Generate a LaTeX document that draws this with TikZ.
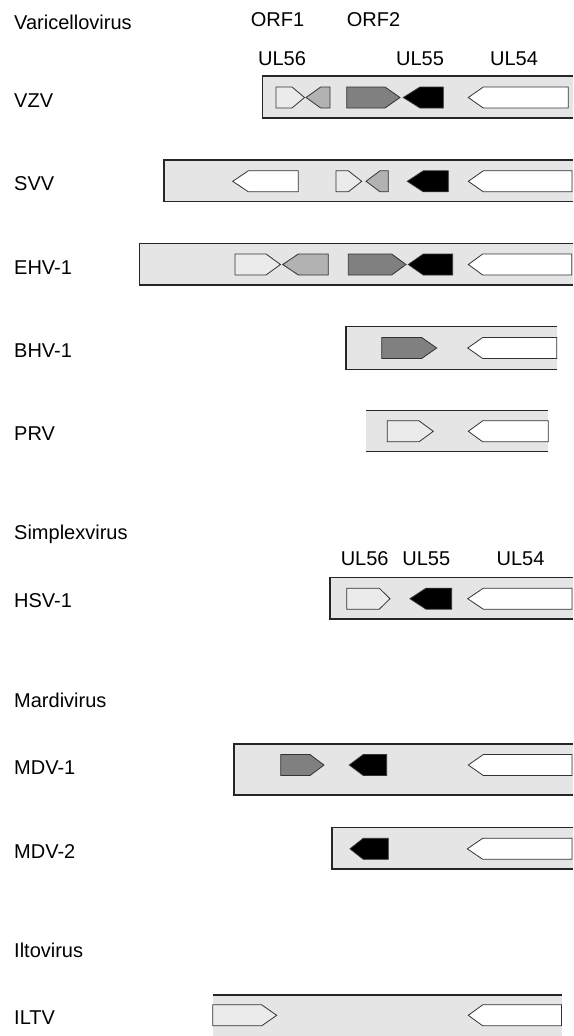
\documentclass[tikz,border=0pt]{standalone}
\usepackage{fontspec}
\setmainfont{Liberation Sans}
\tikzset{
  lbl/.style={inner sep=0pt, anchor=base west, font=\fontsize{20}{24}\selectfont},
  glbl/.style={inner sep=0pt, anchor=base, font=\fontsize{20}{24}\selectfont},
  boxfill/.style={fill=black!10},
  boxline/.style={draw=black!85, line width=1.3pt},
  gene/.style={draw=black!80, line width=0.8pt},
  gwhite/.style={gene, fill=white},
  glight/.style={gene, fill=black!8},
  ggray/.style={gene, fill=black!30},
  gdark/.style={gene, fill=black!50},
  gblack/.style={gene, fill=black},
}
% right-pointing gene: style, left, corner, tip, ymid
\newcommand{\geneRt}[5]{\path[#1] ({#2},{#5-10.5}) -- ({#3},{#5-10.5}) -- ({#4},{#5}) -- ({#3},{#5+10.5}) -- ({#2},{#5+10.5}) -- cycle;}
% left-pointing gene: style, tip, corner, right, ymid
\newcommand{\geneLt}[5]{\path[#1] ({#2},{#5}) -- ({#3},{#5-10.5}) -- ({#4},{#5-10.5}) -- ({#4},{#5+10.5}) -- ({#3},{#5+10.5}) -- cycle;}
% box with left line: left, right, top, bottom
\newcommand{\genomebox}[4]{\fill[boxfill] (#1,#3) rectangle (#2,#4);
  \draw[boxline] (#2,#3) -- (#1,#3) -- (#1,#4) -- (#2,#4);}
\begin{document}
\begin{tikzpicture}[x=1pt,y=-1pt]
\useasboundingbox (0,0) rectangle (573,1036);
% ---------- labels ----------
\node[lbl] (varicello) at (14,29) {Varicellovirus};
\node[glbl] (orf1) at (277.5,27) {ORF1};
\node[glbl] (orf2) at (373.5,27) {ORF2};
\node[glbl] (ul56a) at (282,65) {UL56};
\node[glbl] (ul55a) at (420,65) {UL55};
\node[glbl] (ul54a) at (514,65) {UL54};
\node[lbl] (vzv) at (14,107) {VZV};
\node[lbl] (svv) at (14,190.5) {SVV};
\node[lbl] (ehv) at (14,274) {EHV-1};
\node[lbl] (bhv) at (14,357.5) {BHV-1};
\node[lbl] (prv) at (14,440.5) {PRV};
\node[lbl] (simplex) at (14,539) {Simplexvirus};
\node[glbl] (ul56b) at (364.7,565) {UL56};
\node[glbl] (ul55b) at (426.3,565) {UL55};
\node[glbl] (ul54b) at (520.5,565) {UL54};
\node[lbl] (hsv) at (14,607) {HSV-1};
\node[lbl] (mardi) at (14,707) {Mardivirus};
\node[lbl] (mdv1) at (14,774.5) {MDV-1};
\node[lbl] (mdv2) at (14,858.5) {MDV-2};
\node[lbl] (ilto) at (14,957) {Iltovirus};
\node[lbl] (iltv) at (14,1024.5) {ILTV};
% ---------- VZV ----------
\genomebox{262.7}{572.5}{76}{118}
\geneRt{glight}{276}{292}{304.5}{97.5}
\geneLt{ggray}{306}{320.7}{330}{97.5}
\geneRt{gdark}{346.7}{385}{400}{97.5}
\geneLt{gblack}{403.3}{420}{443.3}{97.5}
\geneLt{gwhite}{468.3}{483.3}{568.3}{97.5}
% ---------- SVV ----------
\genomebox{164}{572.5}{160}{201.7}
\geneLt{gwhite}{232.7}{248.3}{298.3}{181.3}
\geneRt{glight}{336}{348.3}{361.7}{181.3}
\geneLt{ggray}{366}{380}{388.3}{181.3}
\geneLt{gblack}{407.3}{423.3}{448.3}{181.3}
\geneLt{gwhite}{468.3}{483.3}{572}{181.3}
% ---------- EHV-1 ----------
\genomebox{139.3}{572.5}{243.3}{285}
\geneRt{glight}{235}{266}{280.5}{264.5}
\geneLt{ggray}{282.7}{298.3}{328.3}{264.5}
\geneRt{gdark}{348.3}{391.7}{406}{264.5}
\geneLt{gblack}{408.3}{423.3}{452.7}{264.5}
\geneLt{gwhite}{468.3}{482.7}{571.7}{264.5}
% ---------- BHV-1 ----------
\genomebox{346}{556.7}{326.7}{369.3}
\geneRt{gdark}{381.7}{421.7}{436.7}{348}
\geneLt{gwhite}{467.7}{482.7}{556.7}{348}
% ---------- PRV ----------
\fill[boxfill] (366,410.7) rectangle (548.3,451.7);
\draw[boxline] (366,410.7) -- (548.3,410.7);
\draw[boxline] (366,451.7) -- (548.3,451.7);
\geneRt{glight}{387.3}{419}{433.3}{431.3}
\geneLt{gwhite}{468.3}{482.7}{548.3}{431.3}
% ---------- HSV-1 ----------
\genomebox{330}{572.5}{577.3}{619}
\geneRt{glight}{346.7}{379.3}{390}{598.7}
\geneLt{gblack}{410}{426}{451.7}{598.7}
\geneLt{gwhite}{467.7}{483.3}{572}{598.7}
% ---------- MDV-1 ----------
\genomebox{234}{572.5}{744}{795}
\geneRt{gdark}{280.7}{310}{324}{765}
\geneLt{gblack}{349.3}{363.3}{386.7}{765}
\geneLt{gwhite}{468.3}{483.3}{572}{765}
% ---------- MDV-2 ----------
\genomebox{332}{572.5}{827.7}{869}
\geneLt{gblack}{350}{363.3}{388.3}{848.8}
\geneLt{gwhite}{467.3}{482.7}{572}{848.8}
% ---------- ILTV ----------
\fill[boxfill] (212.7,995) rectangle (561.5,1036);
\draw[boxline] (212.7,995) -- (561.5,995);
\geneRt{glight}{212.7}{261.7}{276.7}{1015.3}
\geneLt{gwhite}{468.3}{482.7}{561.5}{1015.3}
\end{tikzpicture}
\end{document}
